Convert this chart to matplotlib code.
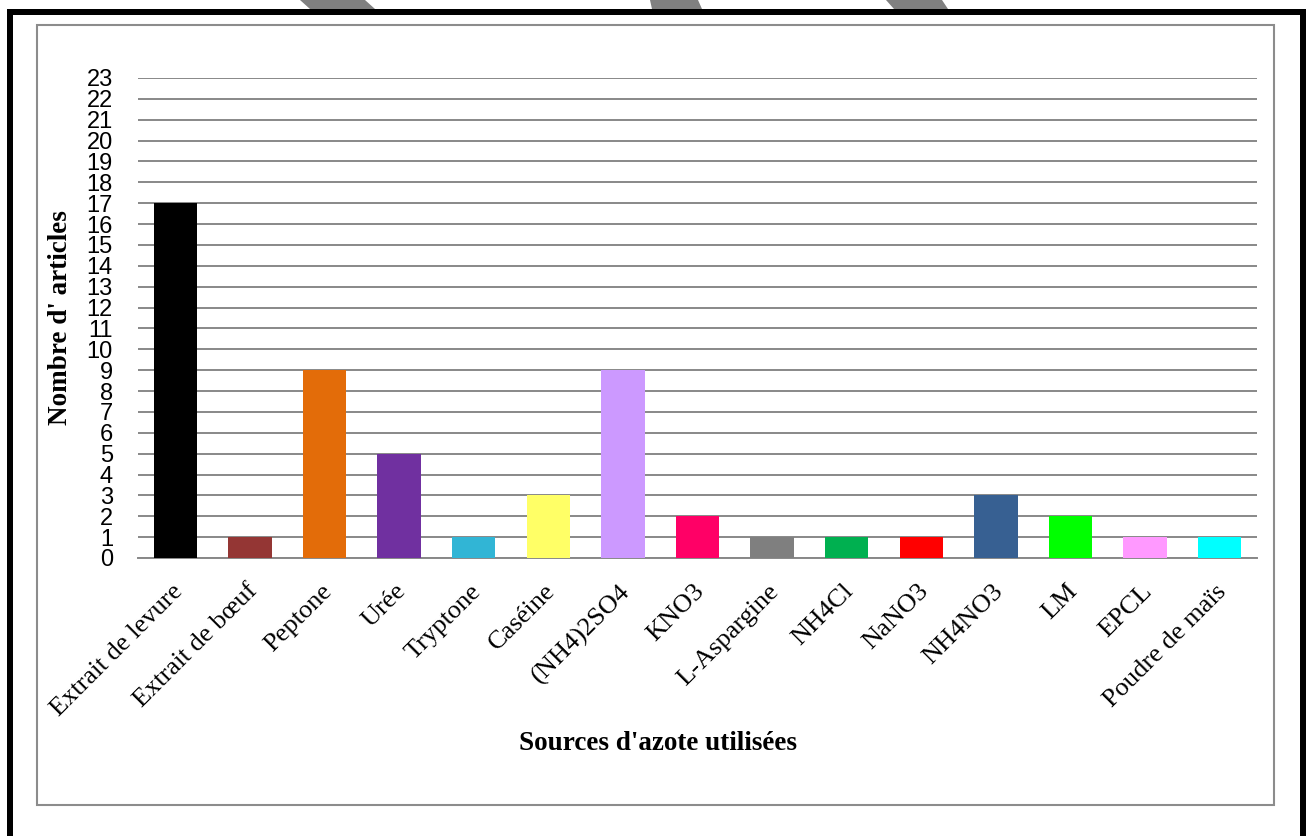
import matplotlib

matplotlib.use("Agg")

import matplotlib.pyplot as plt
import matplotlib.transforms as mtransforms
from matplotlib.patches import Polygon, Rectangle

sources = [
    "Extrait de levure", "Extrait de bœuf", "Peptone", "Urée", "Tryptone",
    "Caséine", "(NH4)2SO4", "KNO3", "L-Aspargine", "NH4Cl", "NaNO3",
    "NH4NO3", "LM", "EPCL", "Poudre de maïs",
]
articles = [17, 1, 9, 5, 1, 3, 9, 2, 1, 1, 1, 3, 2, 1, 1]
bar_colors = [
    "#000000", "#943634", "#E36C09", "#7030A0", "#31B5D5", "#FFFF66",
    "#CC99FF", "#FF0066", "#7F7F7F", "#00B050", "#FF0000", "#376092",
    "#00FF00", "#FF99FF", "#00FFFF",
]
y_ticks = list(range(0, 24))

W, H = 1307, 836
fig = plt.figure(figsize=(W / 100, H / 100), dpi=100)
fig.patch.set_facecolor("white")


def fx(px):
    return px / W


def fy(py):
    return 1 - py / H


# grey shapes peeking above the page frame
for pts in [
    [(300, 0), (365, 0), (375, 9), (310, 9)],
    [(650, 0), (698, 0), (702, 9), (652, 9)],
    [(886, 0), (942, 0), (948, 9), (894, 9)],
]:
    fig.patches.append(Polygon([(fx(x), fy(y)) for x, y in pts], closed=True,
                               transform=fig.transFigure, facecolor="#808080",
                               edgecolor="none", zorder=0))

# thick black page frame (top, left, right)
for x0, y0, x1, y1 in [(7, 9, 1306, 15), (7, 9, 13, 836), (1300, 9, 1306, 836)]:
    fig.patches.append(Rectangle((fx(x0), fy(y1)), fx(x1 - x0), (y1 - y0) / H,
                                 transform=fig.transFigure, facecolor="black",
                                 edgecolor="none", zorder=1))

# chart area border
fig.patches.append(Rectangle((fx(37), fy(805)), fx(1274 - 37), (805 - 25) / H,
                             transform=fig.transFigure, facecolor="none",
                             edgecolor="#8C8C8C", linewidth=1.5, zorder=1))

ax = fig.add_axes([fx(138), fy(558), fx(1257 - 138), (558 - 78) / H])
ax.set_facecolor("none")

x = range(len(sources))
ax.bar(x, articles, width=0.58, color=bar_colors, zorder=3)

ax.set_xlim(-0.5, len(sources) - 0.5)
ax.set_ylim(0, 23)
ax.set_yticks(y_ticks)
ax.set_yticklabels([str(v) for v in y_ticks], fontfamily="Liberation Sans", fontsize=17)
ax.tick_params(axis="y", length=0, pad=18)
ax.yaxis.grid(True, color="#888888", linewidth=1.4, zorder=0)
ax.set_axisbelow(True)

ax.set_xticks(list(x))
ax.set_xticklabels(sources, rotation=45, ha="right", va="top", rotation_mode="anchor",
                   fontfamily="Liberation Serif", fontsize=19)
ax.tick_params(axis="x", length=0, pad=16)
shift = mtransforms.ScaledTranslation(-4 / 100, 0, fig.dpi_scale_trans)
for lbl in ax.get_xticklabels():
    lbl.set_transform(lbl.get_transform() + shift)

for side in ["left", "right", "top"]:
    ax.spines[side].set_visible(False)
ax.spines["bottom"].set_color("#888888")
ax.spines["bottom"].set_linewidth(1.4)

ax.set_ylabel("Nombre d' articles", fontfamily="Liberation Serif", fontweight="bold",
              fontsize=19.5)
ax.yaxis.set_label_coords(fx(73 - 138) / fx(1257 - 138), 0.5)

fig.text(fx(658), fy(744), "Sources d'azote utilisées", ha="center", va="center",
         fontfamily="Liberation Serif", fontweight="bold", fontsize=19.5)

fig.savefig("out.png", dpi=100)
